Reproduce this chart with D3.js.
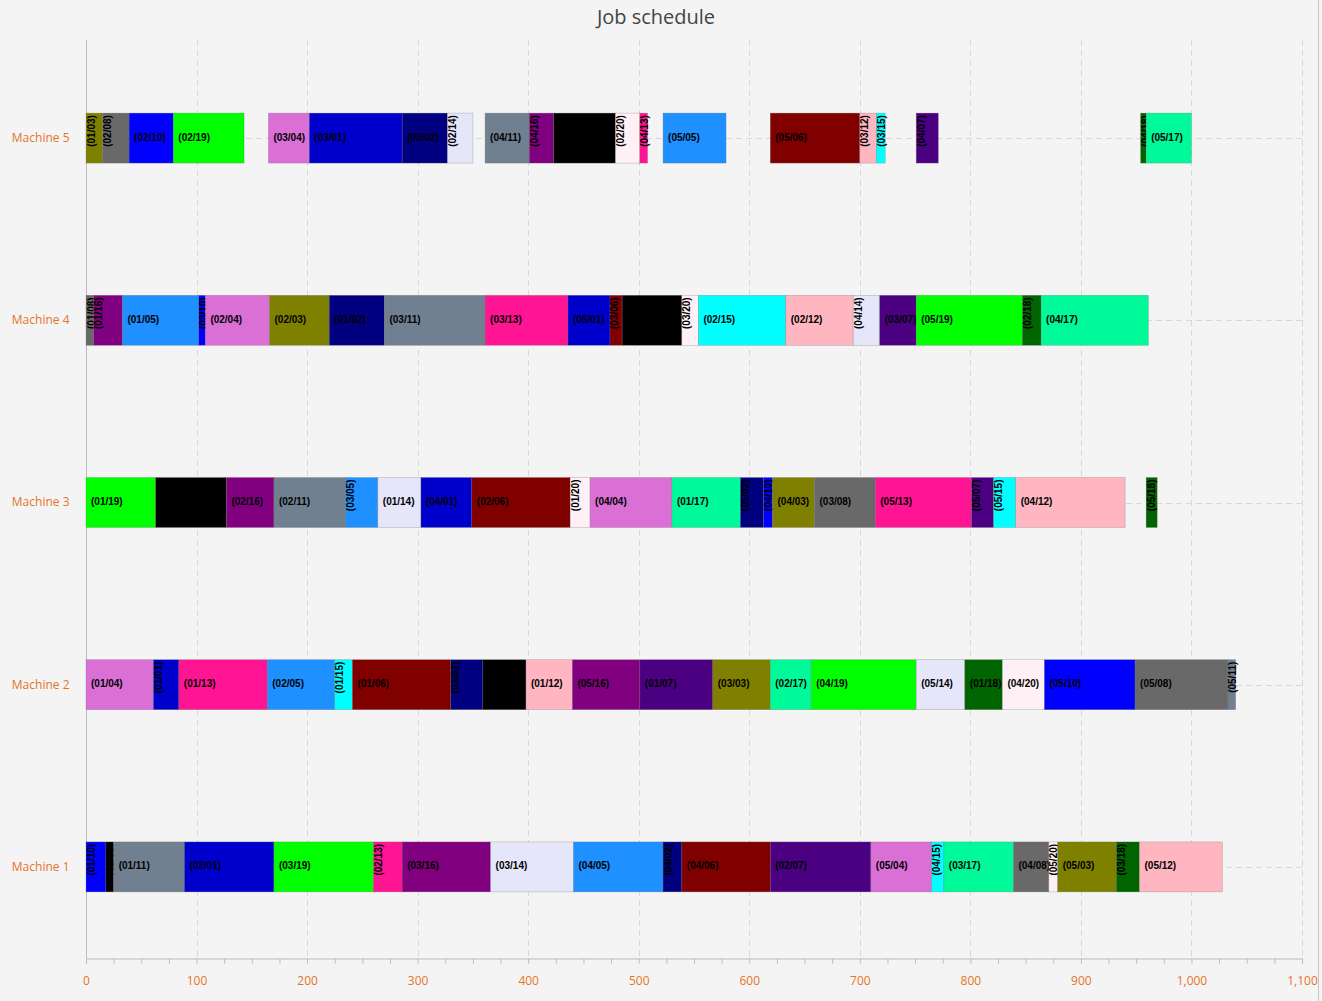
<!DOCTYPE html>
<html><head><meta charset="utf-8">
<script src="https://cdn.jsdelivr.net/npm/d3@7"></script>
<style>
html,body{margin:0;padding:0;background:#f4f4f4;}
svg{display:block;}
</style></head>
<body><svg id="chart" width="1322" height="1001"></svg>
<script>
const title = "Job schedule";
const machines = ["Machine 5", "Machine 4", "Machine 3", "Machine 2", "Machine 1"];
const xTicks = [0, 100, 200, 300, 400, 500, 600, 700, 800, 900, 1000, 1100];
// job number (01..20) -> colour
const jobColors = ["#0000CD","#000080","#808000","#DA70D6","#1E90FF","#800000","#4B0082","#696969","#000000","#0000FF",
                   "#708090","#FFB6C1","#FF1493","#E6E6FA","#00FFFF","#800080","#00FA9A","#006400","#00FF00","#FFF0F5"];
// [label, start, end]
const machine5Tasks = [["(01/03)",0,15],["(02/08)",15,39],["(02/10)",39,79],["(02/19)",79,143],["(03/04)",165,202],["(03/01)",202,286],
  ["(02/02)",286,327],["(02/14)",327,350],["(04/11)",361,401],["(04/16)",401,423],["(04/09)",423,479],["(02/20)",479,501],["(04/13)",501,508],
  ["(05/05)",522,579],["(05/06)",619,700],["(03/12)",700,715],["(03/15)",715,723],["(04/07)",751,771],["(04/18)",954,959],["(05/17)",959,1000]];
const machine4Tasks = [["(01/08)",0,7],["(01/16)",7,33],["(01/05)",33,102],["(03/10)",102,108],["(02/04)",108,166],["(02/03)",166,220],
  ["(01/02)",220,270],["(03/11)",270,361],["(03/13)",361,436],["(05/01)",436,474],["(03/06)",474,485],["(05/09)",485,539],["(03/20)",539,554],
  ["(02/15)",554,633],["(02/12)",633,694],["(04/14)",694,718],["(03/07)",718,751],["(05/19)",751,847],["(02/18)",847,864],["(04/17)",864,961]];
const machine3Tasks = [["(01/19)",0,63],["(02/09)",63,127],["(02/16)",127,170],["(02/11)",170,235],["(03/05)",235,264],["(01/14)",264,303],
  ["(04/01)",303,349],["(02/06)",349,438],["(01/20)",438,456],["(04/04)",456,530],["(01/17)",530,592],["(05/02)",592,613],["(04/10)",613,621],
  ["(04/03)",621,659],["(03/08)",659,714],["(05/13)",714,801],["(05/07)",801,821],["(05/15)",821,841],["(04/12)",841,940],["(05/18)",959,969]];
const machine2Tasks = [["(01/04)",0,61],["(01/01)",61,84],["(01/13)",84,164],["(02/05)",164,225],["(01/15)",225,241],["(01/06)",241,330],
  ["(03/02)",330,359],["(03/09)",359,398],["(01/12)",398,440],["(05/16)",440,501],["(01/07)",501,567],["(03/03)",567,619],["(02/17)",619,656],
  ["(04/19)",656,751],["(05/14)",751,795],["(01/18)",795,829],["(04/20)",829,867],["(05/10)",867,949],["(05/08)",949,1033],["(05/11)",1033,1040]];
const machine1Tasks = [["(01/10)",0,18],["(01/09)",18,25],["(01/11)",25,89],["(02/01)",89,170],["(03/19)",170,260],["(02/13)",260,286],
  ["(03/16)",286,366],["(03/14)",366,441],["(04/05)",441,522],["(04/02)",522,539],["(04/06)",539,619],["(02/07)",619,710],["(05/04)",710,765],
  ["(04/15)",765,776],["(03/17)",776,839],["(04/08)",839,871],["(05/20)",871,879],["(05/03)",879,932],["(03/18)",932,953],["(05/12)",953,1028]];
const machineTasks = [machine5Tasks, machine4Tasks, machine3Tasks, machine2Tasks, machine1Tasks];

(function () {
const svg = d3.select("#chart");
const W = 1322, H = 1001;
const mLeft = 86, mRight = 1302, mTop = 47, mBottom = 958;
const orange = "#e4742a";

const x = d3.scaleLinear().domain([0, 1100]).range([mLeft, mRight]);
const y = d3.scaleBand().domain(machines).range([mTop, mBottom]).paddingInner(0).paddingOuter(0);
const barH = 50;

svg.append("rect").attr("width", W).attr("height", H).attr("fill", "#f4f4f4");
svg.append("line").attr("x1", 1318.5).attr("x2", 1318.5).attr("y1", 0).attr("y2", H).attr("stroke", "#c8c8c8");

svg.append("text").attr("x", 656).attr("y", 24).attr("text-anchor", "middle")
  .attr("font-family", "'Open Sans', 'Noto Sans', sans-serif").attr("font-size", 20).attr("fill", "#444").text(title);

// grid
const grid = svg.append("g");
grid.selectAll("line.v").data(xTicks.slice(1)).join("line")
  .attr("x1", d => Math.round(x(d)) + 0.5).attr("x2", d => Math.round(x(d)) + 0.5)
  .attr("y1", 40).attr("y2", mBottom)
  .attr("stroke", "#d8d8d8").attr("stroke-dasharray", "6,4");
grid.selectAll("line.h").data(machines).join("line")
  .attr("x1", mLeft).attr("x2", mRight)
  .attr("y1", d => Math.round(y(d) + y.bandwidth() / 2) + 0.5).attr("y2", d => Math.round(y(d) + y.bandwidth() / 2) + 0.5)
  .attr("stroke", "#d8d8d8").attr("stroke-dasharray", "6,4");

// axes
const xAxis = d3.axisBottom(x).tickValues(d3.range(0, 1101, 25)).tickSize(5)
  .tickFormat(d => (d % 100 === 0 ? d3.format(",")(d) : ""));
const gx = svg.append("g").attr("transform", `translate(0,${mBottom + 0.5})`).call(xAxis);
gx.select(".domain").attr("stroke", "#bbb");
gx.selectAll(".tick line").attr("stroke", "#bbb");
gx.selectAll(".tick text").attr("fill", orange).attr("font-size", 12)
  .attr("font-family", "'Open Sans', 'Noto Sans', sans-serif").attr("y", 18).attr("dy", "0.71em");

const yAxis = d3.axisLeft(y).tickSize(0).tickPadding(17);
const gy = svg.append("g").attr("transform", `translate(${mLeft + 0.5},0)`).call(yAxis);
gy.select(".domain").attr("stroke", "#bbb").attr("d", `M0,40V${mBottom}`);
gy.selectAll(".tick text").attr("fill", orange).attr("font-size", 12)
  .attr("font-family", "'Open Sans', 'Noto Sans', sans-serif");

// bars
const plot = svg.append("g");
machines.forEach((m, i) => {
  const cy = y(m) + y.bandwidth() / 2;
  const yTop = cy - barH / 2;
  const row = plot.append("g");
  machineTasks[i].forEach(t => {
    const [label, s, e] = t;
    const job = +label.slice(4, 6);
    const x0 = x(s), x1 = x(e), w = x1 - x0;
    const g = row.append("g");
    g.append("rect").attr("x", x0).attr("y", yTop).attr("width", w).attr("height", barH)
      .attr("fill", jobColors[job - 1]).attr("stroke", "rgba(110,110,110,0.45)").attr("stroke-width", 0.6);
    const txt = g.append("text").text(label)
      .attr("font-family", "'Liberation Sans', Arial, sans-serif").attr("font-weight", "bold")
      .attr("font-size", 10).attr("fill", "#000");
    if (w < 34) {
      txt.attr("text-anchor", "end")
        .attr("transform", `translate(${x0 + 8.5},${yTop + 2}) rotate(-90)`);
    } else {
      txt.attr("x", x0 + 5).attr("y", cy + 2.5);
    }
  });
});
})();
</script></body></html>
